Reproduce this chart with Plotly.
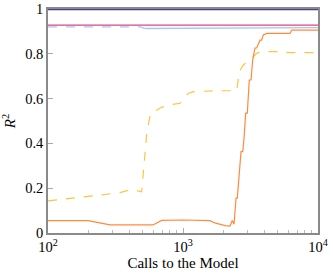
import plotly.graph_objects as go

# Dark blue series (top, R^2 = 1)
top_x = [100, 10000]
top_y = [1.0, 1.0]

# Pink series
pink_x = [100, 10000]
pink_y = [0.928, 0.928]

# Light blue dashed series
lbd_x = [100, 480, 520]
lbd_y = [0.92, 0.92, 0.914]

# Light blue solid series
lbs_x = [520, 2000, 3000, 10000]
lbs_y = [0.913, 0.914, 0.917, 0.917]

# Orange solid series
orange_x = [100, 198, 288, 600, 695, 1000, 1585, 1720, 2050, 2228, 2318, 2387,
            2471, 2525, 2690, 2770, 2830, 2913, 2995, 3097, 3190, 3284, 3412,
            3512, 3720, 3826, 3933, 4169, 6205, 6389, 10000]
orange_y = [0.055, 0.055, 0.036, 0.036, 0.056, 0.058, 0.055, 0.045, 0.033, 0.031, 0.056, 0.039,
            0.156, 0.156, 0.363, 0.363, 0.42, 0.535, 0.535, 0.683, 0.683, 0.772, 0.826,
            0.826, 0.861, 0.861, 0.884, 0.891, 0.891, 0.906, 0.906]

# Yellow dashed series
yellow_x = [100, 200, 341, 417, 494, 540, 575, 603, 695, 778, 950, 1097, 1200,
            1777, 2500, 2613, 2797, 3130, 3512, 3826, 4943, 6205, 10000]
yellow_y = [0.143, 0.165, 0.18, 0.195, 0.184, 0.45, 0.534, 0.541, 0.561, 0.571, 0.579, 0.624, 0.631,
            0.635, 0.635, 0.72, 0.75, 0.772, 0.802, 0.81, 0.81, 0.805, 0.805]

x_tickvals = [100, 1000, 10000]
x_ticktext = ["10<sup>2</sup>", "10<sup>3</sup>", "10<sup>4</sup>"]
x_minor_vals = [200, 300, 400, 500, 600, 700, 800, 900,
                2000, 3000, 4000, 5000, 6000, 7000, 8000, 9000]
y_tickvals = [0, 0.2, 0.4, 0.6, 0.8, 1]
y_ticktext = ["0", "0.2", "0.4", "0.6", "0.8", "1"]

SERIF = "Liberation Serif, Times New Roman, serif"

fig = go.Figure()
fig.add_trace(go.Scatter(x=lbd_x, y=lbd_y, mode="lines",
                         line=dict(color="#b0c2fa", width=1.3, dash="dash")))
fig.add_trace(go.Scatter(x=lbs_x, y=lbs_y, mode="lines",
                         line=dict(color="#b0c2fa", width=1.3)))
fig.add_trace(go.Scatter(x=pink_x, y=pink_y, mode="lines",
                         line=dict(color="#d9467c", width=1.1)))
fig.add_trace(go.Scatter(x=yellow_x, y=yellow_y, mode="lines",
                         line=dict(color="#ffc43f", width=1.2, dash="dash")))
fig.add_trace(go.Scatter(x=orange_x, y=orange_y, mode="lines",
                         line=dict(color="#ff8a3d", width=1.2)))
fig.add_trace(go.Scatter(x=top_x, y=top_y, mode="lines",
                         line=dict(color="#4a3f8f", width=2.4)))

fig.update_layout(
    width=333, height=273, autosize=False,
    margin=dict(l=48, r=15, t=9, b=40, pad=0),
    paper_bgcolor="white", plot_bgcolor="white",
    showlegend=False,
    font=dict(family=SERIF, size=14.5, color="black"),
)
fig.update_xaxes(
    type="log", range=[2, 4], automargin=False,
    tickvals=x_tickvals, ticktext=x_ticktext,
    tickfont=dict(family=SERIF, size=14.5),
    ticks="inside", ticklen=5, tickcolor="#aaaaaa",
    minor=dict(tickvals=x_minor_vals, ticks="inside", ticklen=3,
               tickcolor="#bbbbbb", showgrid=False),
    showgrid=False, zeroline=False, layer="below traces",
    showline=True, mirror=True, linecolor="#8a8a8a", linewidth=1.5,
    title=dict(text="Calls to the Model", standoff=0, font=dict(family=SERIF, size=15)),
)
fig.update_yaxes(
    range=[0, 1], automargin=False,
    tickvals=y_tickvals, ticktext=y_ticktext,
    tickfont=dict(family=SERIF, size=14.5),
    ticks="inside", ticklen=5, tickcolor="#aaaaaa",
    showgrid=False, zeroline=False, layer="below traces",
    showline=True, mirror=True, linecolor="#8a8a8a", linewidth=1.5,
    title=dict(text="<i>R</i><sup>2</sup>", standoff=6, font=dict(family=SERIF, size=15)),
)

fig.write_html("out.html", config={"displayModeBar": False},
               post_script="document.body.style.margin='0';document.body.style.overflow='hidden';")
